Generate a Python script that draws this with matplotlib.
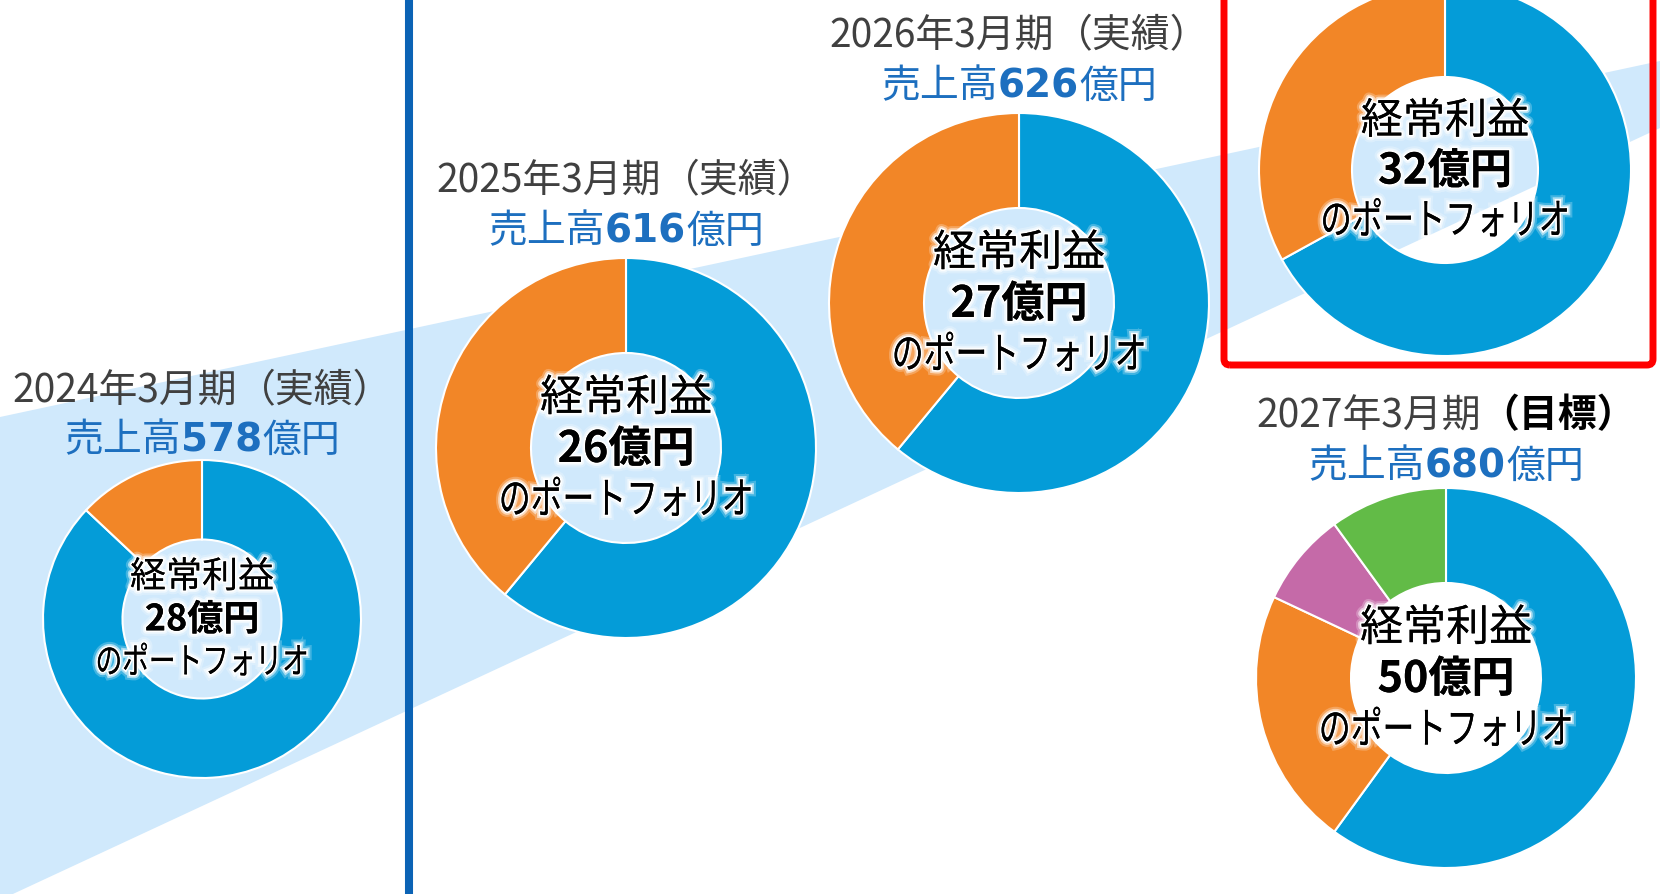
import matplotlib.pyplot as plt
import matplotlib.patheffects as pe
from matplotlib.patches import Polygon, FancyBboxPatch, PathPatch
from matplotlib.textpath import TextPath
from matplotlib.font_manager import FontProperties
from matplotlib.transforms import Affine2D

plt.rcParams['font.family'] = ['Noto Sans CJK JP', 'DejaVu Sans']

# data
periods = ['2024年3月期', '2025年3月期', '2026年3月期', None, '2027年3月期']
status = ['（実績）', '（実績）', '（実績）', None, '（目標）']
sales = [578, 616, 626, None, 680]
profit = [28, 26, 27, 32, 50]
# portfolio shares (%) per segment, clockwise from 12 o'clock
seg_blue = [87, 61, 61, 67, 60]
seg_orange = [13, 39, 39, 33, 22]
seg_purple = [0, 0, 0, 0, 8]
seg_green = [0, 0, 0, 0, 10]
seg_colors = ['#049CD8', '#F28627', '#C56AA8', '#62BB47']

# layout (pixels, y measured from top)
W, H = 1660, 895
centers = [(202, 620), (626, 449), (1019, 304), (1445, 171), (1446, 679)]
radii = [159, 190, 190, 186, 190]
title_y = [388, 178, 33, None, 413]
sales_y = [437, 228, 83, None, 463]

GRAY = '#404040'
BLUE = '#1D6FBF'

fig = plt.figure(figsize=(W / 100, H / 100), dpi=100)
ax = fig.add_axes([0, 0, 1, 1])


def py(y):
    return H - y


# light blue growth band and the divider line
ax.add_patch(Polygon([(0, py(418)), (W, py(62)), (W, py(129)), (0, py(901))],
                     closed=True, facecolor='#D0E9FC', edgecolor='none', zorder=0))
ax.plot([409, 409], [0, H], color='#0B63B5', lw=5.8, solid_capstyle='butt', zorder=1)

# red highlight box round the 4th donut
ax.add_patch(FancyBboxPatch((1224, py(366)), 1653 - 1224, 366 + 40,
                            boxstyle='round,pad=0,rounding_size=6',
                            facecolor='none', edgecolor='#FF0000', lw=5, zorder=1))

glow = [pe.withStroke(linewidth=8, foreground='white', alpha=0.25),
        pe.withStroke(linewidth=5, foreground='white', alpha=0.55),
        pe.withStroke(linewidth=2.5, foreground='white', alpha=1.0),
        pe.Normal()]

renderer = fig.canvas.get_renderer()
jp = FontProperties(family='Noto Sans CJK JP')


def rich_line(x, y_center, parts, size):
    em = size * 100 / 72
    base = py(y_center + 0.37 * em)
    texts = []
    for s, color, weight, fam in parts:
        t = ax.text(0, base, s, fontsize=size, color=color, fontweight=weight,
                    family=fam, ha='left', va='baseline', zorder=5)
        texts.append(t)
    widths = [t.get_window_extent(renderer).width for t in texts]
    start = x - sum(widths) / 2
    for t, w in zip(texts, widths):
        t.set_x(start)
        start += w


def narrow_text(x, base, s, em, sx):
    # kana line drawn as a path, squeezed horizontally
    path = TextPath((0, 0), s, size=em, prop=jp)
    ext = path.get_extents()
    x0 = x - sx * (ext.x0 + ext.x1) / 2
    patch = PathPatch(path, facecolor='black', edgecolor='none', lw=0, zorder=6,
                      transform=Affine2D().scale(sx, 1).translate(x0, base) + ax.transData)
    patch.set_path_effects(glow)
    ax.add_patch(patch)


for i, (cx, cy) in enumerate(centers):
    r = radii[i]
    vals = [seg_blue[i], seg_orange[i], seg_purple[i], seg_green[i]]
    keep = [k for k, v in enumerate(vals) if v > 0]
    ax.pie([vals[k] for k in keep], colors=[seg_colors[k] for k in keep],
           startangle=90, counterclock=False, radius=r, center=(cx, py(cy)),
           wedgeprops=dict(width=r * 0.5, edgecolor='white', linewidth=1.5))

    # centre label
    size = 31 * r / 190
    em = size * 100 / 72
    gap = 0.27 * r
    lines = [('経常利益', 'normal'), (f'{profit[i]}億円', 'bold')]
    for j, (s, wgt) in enumerate(lines):
        yc = cy - 2 + (j - 1) * gap
        t = ax.text(cx, py(yc + 0.37 * em), s, fontsize=size, fontweight=wgt,
                    color='black', ha='center', va='baseline', zorder=6)
        t.set_path_effects(glow)
    narrow_text(cx, py(cy - 2 + gap + 0.37 * em), 'のポートフォリオ', em, 0.74)

    # period title and sales
    if periods[i] is not None:
        st_color, st_weight = (GRAY, 'normal') if status[i] == '（実績）' else ('black', 'bold')
        rich_line(cx, title_y[i], [(periods[i], GRAY, 'normal', 'Noto Sans CJK JP'),
                                   (status[i], st_color, st_weight, 'Noto Sans CJK JP')], 28)
        rich_line(cx, sales_y[i], [('売上高', BLUE, 'normal', 'Noto Sans CJK JP'),
                                   (str(sales[i]), BLUE, 'bold', 'DejaVu Sans'),
                                   ('億円', BLUE, 'normal', 'Noto Sans CJK JP')], 28)

ax.set_xlim(0, W)
ax.set_ylim(0, H)
ax.set_aspect('auto')
ax.axis('off')

fig.savefig('out.png', dpi=100)
